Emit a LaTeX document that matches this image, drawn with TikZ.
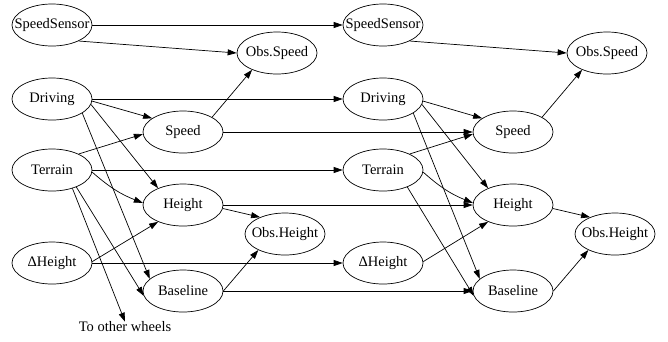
\documentclass[tikz,border=0pt]{standalone}
\usepackage{fontspec}
\setmainfont{Liberation Serif}
\usetikzlibrary{shapes.geometric,arrows.meta}

\tikzset{
  bn/.style={ellipse, draw, line width=0.7pt, minimum width=80pt, minimum height=42pt,
    inner sep=0pt, font=\fontsize{14.5}{16}\selectfont},
  edge/.style={line width=0.7pt, -{Triangle[length=9pt,width=6pt]}},
  lbl/.style={font=\fontsize{14.5}{16}\selectfont, inner sep=0pt}
}
\newcommand{\nm}[1]{\makebox[0pt]{#1}}

\begin{document}
\begin{tikzpicture}[x=1pt,y=-1pt]
\useasboundingbox (0,0) rectangle (668,341);

% time slice t
\node[bn] (SS)  at (52,25)   {\nm{SpeedSensor}};
\node[bn] (OS)  at (277,53)  {\nm{Obs.Speed}};
\node[bn] (Dr)  at (52,99)   {\nm{Driving}};
\node[bn] (Sp)  at (183,132) {\nm{Speed}};
\node[bn] (Te)  at (52,170)  {\nm{Terrain}};
\node[bn] (He)  at (183,205) {\nm{Height}};
\node[bn] (OH)  at (285,234) {\nm{Obs.Height}};
\node[bn] (DH)  at (52,263)  {\nm{ΔHeight}};
\node[bn] (Ba)  at (183,291) {\nm{Baseline}};
\node[lbl] (tow) at (125,327) {To other wheels};

% time slice t+1
\node[bn] (SS2) at (383,25)  {\nm{SpeedSensor}};
\node[bn] (OS2) at (607,53)  {\nm{Obs.Speed}};
\node[bn] (Dr2) at (383,99)  {\nm{Driving}};
\node[bn] (Sp2) at (513,132) {\nm{Speed}};
\node[bn] (Te2) at (383,170) {\nm{Terrain}};
\node[bn] (He2) at (513,205) {\nm{Height}};
\node[bn] (OH2) at (615,234) {\nm{Obs.Height}};
\node[bn] (DH2) at (383,263) {\nm{ΔHeight}};
\node[bn] (Ba2) at (513,291) {\nm{Baseline}};

% links between slices
\draw[edge] (SS) -- (SS2);
\draw[edge] (Dr) -- (Dr2);
\draw[edge] (Sp) -- (Sp2);
\draw[edge] (Te) -- (Te2);
\draw[edge] (He) -- (He2);
\draw[edge] (DH) -- (DH2);
\draw[edge] (Ba) -- (Ba2);

% links inside the first slice
\draw[edge] (SS.-31) -- (OS.west);
\draw[edge] (Dr.-3) -- (Sp.156);
\draw[edge] (Dr.-8) -- (He.146);
\draw[edge] (Dr.-25) -- (Ba.160);
\draw[edge] (Te.31) -- (Sp.183);
\draw[edge] (Te.-3) to[bend right=10] (He.177);
\draw[edge] (Te.-35) -- (Ba.187);
\draw[edge] (Te.-42) -- (tow.north);
\draw[edge] (DH.2) -- (He.214);
\draw[edge] (Sp.27) -- (OS.214);
\draw[edge] (He.-5) -- (OH.146);
\draw[edge] (Ba.0) -- (OH.211);

% links inside the second slice
\draw[edge] (SS2.-31) -- (OS2.west);
\draw[edge] (Dr2.-3) -- (Sp2.156);
\draw[edge] (Dr2.-8) -- (He2.146);
\draw[edge] (Dr2.-25) -- (Ba2.160);
\draw[edge] (Te2.31) -- (Sp2.183);
\draw[edge] (Te2.-3) to[bend right=10] (He2.177);
\draw[edge] (Te2.-35) -- (Ba2.187);
\draw[edge] (DH2.2) -- (He2.214);
\draw[edge] (Sp2.27) -- (OS2.214);
\draw[edge] (He2.-5) -- (OH2.146);
\draw[edge] (Ba2.0) -- (OH2.211);
\end{tikzpicture}
\end{document}
